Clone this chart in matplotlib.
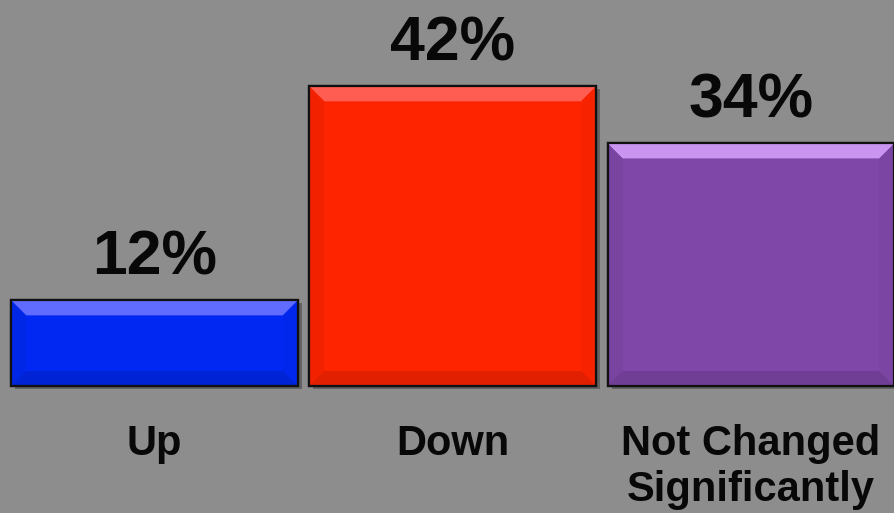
import numpy as np
import matplotlib
matplotlib.use("Agg")
import matplotlib.pyplot as plt
from matplotlib.patches import Polygon, Rectangle
import matplotlib.colors as mcolors

categories = ["Up", "Down", "Not Changed\nSignificantly"]
values = [12, 42, 34]
value_labels = ["12%", "42%", "34%"]
colors = ["#0028f2", "#ff2400", "#7f47a8"]
top_colors = ["#5f6cff", "#ff5c52", "#c995f0"]

plt.rcParams["font.family"] = ["Liberation Sans", "DejaVu Sans"]

fig = plt.figure(figsize=(8.95, 5.13), dpi=100)
fig.patch.set_facecolor("#8d8d8d")
ax = fig.add_axes([0, 0, 1, 1])
ax.set_facecolor("#8d8d8d")
ax.set_xlim(-0.518, 2.483)
ax.set_ylim(-17.8, 54.1)
ax.axis("off")

x = np.arange(len(values))
bars = ax.bar(x, values, width=0.962, color=colors, edgecolor="#111111",
              linewidth=1.6, zorder=3)


def shade(c, f):
    r, g, b = mcolors.to_rgb(c)
    return (r * f, g * f, b * f)


to_data = ax.transData.inverted()
bev = 15  # bevel size in pixels
for bar, col, tcol in zip(bars, colors, top_colors):
    (px0, py0), (px1, py1) = ax.transData.transform(
        [(bar.get_x(), 0), (bar.get_x() + bar.get_width(), bar.get_height())])
    # drop shadow
    sh = to_data.transform([(px0 + 4, py0 - 3), (px1 + 4, py1 - 3)])
    ax.add_patch(Rectangle(sh[0], sh[1][0] - sh[0][0], sh[1][1] - sh[0][1],
                           color="#303030", alpha=0.45, lw=0, zorder=2))
    faces = [
        ([(px0, py1), (px1, py1), (px1 - bev, py1 - bev), (px0 + bev, py1 - bev)], tcol),
        ([(px0, py0), (px0, py1), (px0 + bev, py1 - bev), (px0 + bev, py0 + bev)], shade(col, 0.95)),
        ([(px1, py0), (px1, py1), (px1 - bev, py1 - bev), (px1 - bev, py0 + bev)], shade(col, 0.97)),
        ([(px0, py0), (px1, py0), (px1 - bev, py0 + bev), (px0 + bev, py0 + bev)], shade(col, 0.88)),
    ]
    for pts, fc in faces:
        ax.add_patch(Polygon(to_data.transform(pts), closed=True, facecolor=fc,
                             edgecolor="none", zorder=4))
    ax.add_patch(Rectangle((bar.get_x(), 0), bar.get_width(), bar.get_height(),
                           fill=False, edgecolor="#111111", lw=1.6, zorder=5))

for xi, v, lab in zip(x, values, value_labels):
    ax.annotate(lab, xy=(xi, v), xytext=(0, 9.5), textcoords="offset points",
                ha="center", va="bottom", fontsize=45, fontweight="bold",
                color="#080808")

for xi, cat in zip(x, categories):
    ax.text(xi, -5.3, cat, ha="center", va="top", fontsize=30,
            fontweight="bold", color="#080808", linespacing=1.2)

fig.savefig("out.png", dpi=100, facecolor=fig.get_facecolor())
